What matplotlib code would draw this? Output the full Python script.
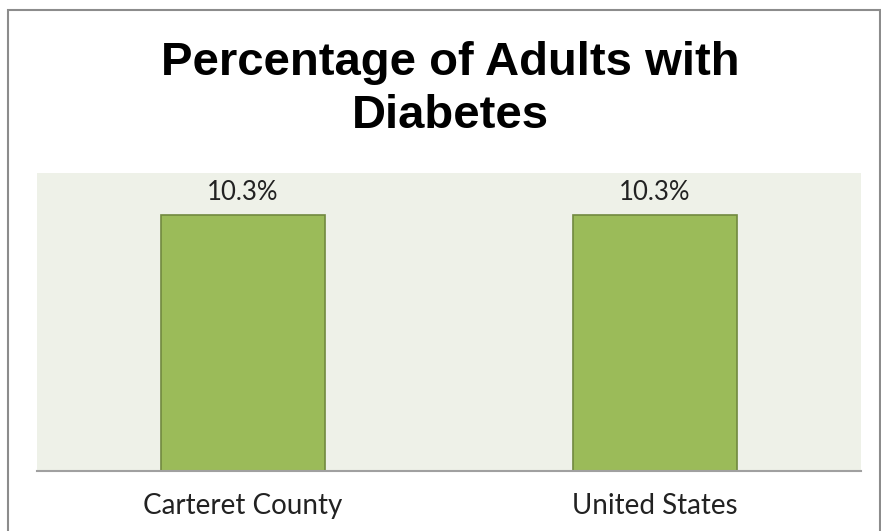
import matplotlib
matplotlib.use("Agg")
import matplotlib.pyplot as plt
from matplotlib.patches import Rectangle

# chart data
categories = ["Carteret County", "United States"]
values = [10.3, 10.3]
value_labels = ["10.3%", "10.3%"]
title = "Percentage of Adults with\nDiabetes"

W, H = 881, 531
fig = plt.figure(figsize=(W / 100, H / 100), dpi=100)

# outer chart border (bottom edge falls outside the picture)
fig.patches.append(Rectangle((8 / W, -0.05), (880 - 8) / W, (H - 10) / H + 0.05,
                             transform=fig.transFigure, fill=False,
                             edgecolor="#8c8c8c", linewidth=1.5))

ax = fig.add_axes([37 / W, 1 - 471 / H, 824 / W, 298 / H])
ax.set_facecolor("#eef1e8")

x = range(len(categories))
ax.bar(x, values, width=0.4, color="#9bbb59", edgecolor="#71893f", linewidth=1.2)
for xi, v, lab in zip(x, values, value_labels):
    ax.annotate(lab, (xi, v), xytext=(0, 7), textcoords="offset points",
                ha="center", va="bottom", fontsize=18.5, family="Lato",
                color="#222222")

ax.set_xlim(-0.5, 1.5)
ax.set_ylim(0, 12)
ax.set_yticks([])
ax.set_xticks(list(x))
ax.set_xticklabels(categories, fontsize=20, family="Lato", color="#222222")
ax.tick_params(axis="x", length=0, pad=16)
for s in ["top", "left", "right"]:
    ax.spines[s].set_visible(False)
ax.spines["bottom"].set_color("#a0a0a0")
ax.spines["bottom"].set_linewidth(1.5)

fig.text(450 / W, 1 - 41 / H, title, ha="center", va="top",
         fontsize=34, fontweight="bold", family="Liberation Sans",
         linespacing=1.25)

fig.savefig("out.png", dpi=100)
